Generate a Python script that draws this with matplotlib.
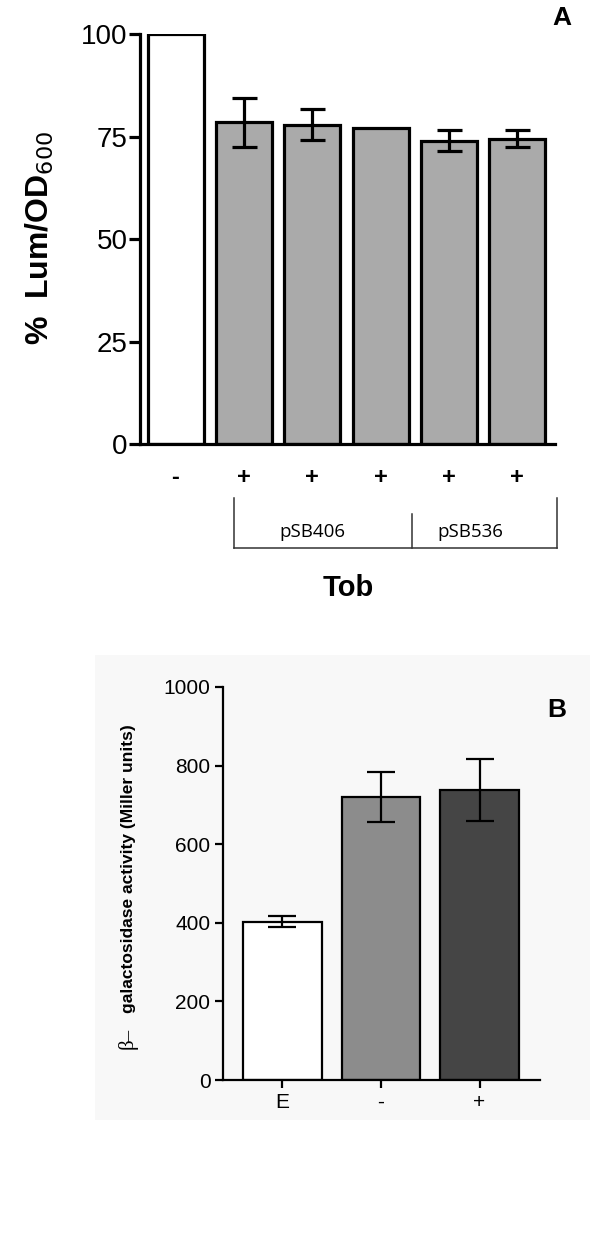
import matplotlib
matplotlib.use('Agg')
import matplotlib.pyplot as plt
from matplotlib.lines import Line2D
from matplotlib.patches import Rectangle

plt.rcParams['font.family'] = ['Liberation Sans', 'DejaVu Sans']

# panel A data
a_labels = ['-', '+', '+', '+', '+', '+']
a_values = [100, 78.5, 77.9, 77.0, 74.0, 74.5]
a_errors = [0, 6.0, 3.7, 0, 2.5, 2.0]
a_colors = ['white', '#aaaaaa', '#aaaaaa', '#aaaaaa', '#aaaaaa', '#aaaaaa']
a_ticks = [0, 25, 50, 75, 100]

# panel B data
b_labels = ['E', '-', '+']
b_values = [403, 720, 738]
b_errors = [14, 64, 80]
b_colors = ['white', '#8c8c8c', '#454545']
b_ticks = [0, 200, 400, 600, 800, 1000]

W, H = 600, 1248
fig = plt.figure(figsize=(W / 100, H / 100), dpi=100)


def px(x, y):
    return x / W, 1 - y / H


def box(l, t, r, b):
    return [l / W, 1 - b / H, (r - l) / W, (b - t) / H]


# light background behind panel B
fig.patches.append(Rectangle(px(95, 1120), 495 / W, 465 / H, transform=fig.transFigure,
                             facecolor='#f8f8f8', edgecolor='none', zorder=-10))

# ---------- panel A ----------
ax = fig.add_axes(box(140, 34, 555, 444))
x = list(range(len(a_values)))
ax.bar(x, a_values, width=0.82, color=a_colors, edgecolor='black', linewidth=2.3, zorder=2)
err_x = [i for i in x if a_errors[i] > 0]
ax.errorbar(err_x, [a_values[i] for i in err_x], yerr=[a_errors[i] for i in err_x],
            fmt='none', ecolor='black', elinewidth=2.3, capsize=9, capthick=2.3, zorder=3)
ax.set_xlim(-0.52, 5.55)
ax.set_ylim(0, 100)
ax.set_yticks(a_ticks)
ax.set_xticks(x)
ax.set_xticklabels(a_labels, fontsize=17, fontweight='bold')
ax.tick_params(axis='x', length=0, pad=16)
ax.tick_params(axis='y', length=8, width=2.3, labelsize=20, pad=1)
for s in ['top', 'right']:
    ax.spines[s].set_visible(False)
for s in ['left', 'bottom']:
    ax.spines[s].set_linewidth(2.3)
ax.patch.set_alpha(0)
fig.text(*px(40, 238), '%  Lum/OD$_{600}$', rotation=90, ha='center', va='center',
         fontsize=23, fontweight='bold')
fig.text(*px(562, 18), 'A', ha='center', va='center', fontsize=19, fontweight='bold')

# bracket under panel A
lc = '#333333'
for xs, ys in [((234, 234), (498, 548)), ((557, 557), (498, 548)), ((412, 412), (514, 548)),
               ((234, 557), (548, 548))]:
    fig.add_artist(Line2D([v / W for v in xs], [1 - v / H for v in ys],
                          transform=fig.transFigure, color=lc, linewidth=1.1))
fig.text(*px(312, 532), 'pSB406', ha='center', va='center', fontsize=13.5,
         family=['Open Sans', 'DejaVu Sans'])
fig.text(*px(470, 532), 'pSB536', ha='center', va='center', fontsize=13.5,
         family=['Open Sans', 'DejaVu Sans'])
fig.text(*px(348, 588), 'Tob', ha='center', va='center', fontsize=21, fontweight='bold')

# ---------- panel B ----------
bx = fig.add_axes(box(223, 687, 540, 1080))
xb = list(range(len(b_values)))
bx.bar(xb, b_values, width=0.8, color=b_colors, edgecolor='black', linewidth=1.6, zorder=2)
bx.errorbar(xb, b_values, yerr=b_errors, fmt='none', ecolor='black', elinewidth=1.6,
            capsize=10, capthick=1.6, zorder=3)
bx.set_xlim(-0.604, 2.614)
bx.set_ylim(0, 1000)
bx.set_yticks(b_ticks)
bx.set_xticks(xb)
bx.set_xticklabels(b_labels, fontsize=15)
bx.tick_params(axis='both', length=6, width=1.6, labelsize=15, pad=3)
for s in ['top', 'right']:
    bx.spines[s].set_visible(False)
for s in ['left', 'bottom']:
    bx.spines[s].set_linewidth(1.6)
bx.patch.set_alpha(0)
fig.text(*px(128, 1049), 'β–', rotation=90, ha='center', va='bottom', fontsize=15,
         family=['Liberation Serif', 'DejaVu Serif'])
fig.text(*px(128, 1013), 'galactosidase activity (Miller units)', rotation=90,
         ha='center', va='bottom', fontsize=12.5, fontweight='bold')
fig.text(*px(557, 710), 'B', ha='center', va='center', fontsize=19, fontweight='bold')

fig.savefig('out.png', dpi=100, facecolor='white')
